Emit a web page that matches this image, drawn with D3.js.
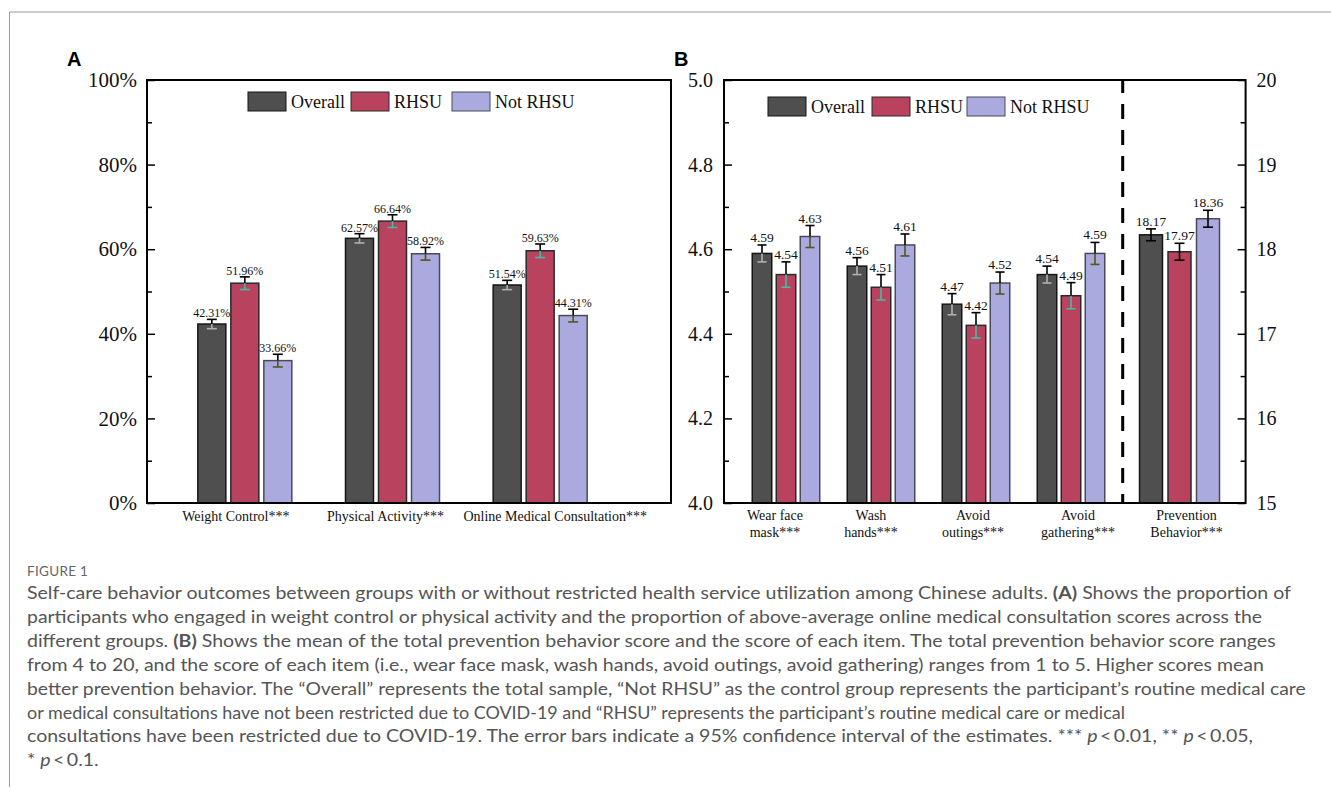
<!DOCTYPE html>
<html><head><meta charset="utf-8">
<script src="https://cdn.jsdelivr.net/npm/d3@7"></script>
<style>body{margin:0;background:#fff} svg{display:block}</style>
</head><body>
<svg id="chart" width="1331" height="791"></svg>
<script>
// ---------- data ----------
const seriesNames = ["Overall", "RHSU", "Not RHSU"];
const seriesColors = ["#4f4f4f", "#b9435f", "#aaaade"];
const seriesStrokes = ["#151515", "#2a2a2a", "#4a4a5c"];

const categoriesA = ["Weight Control***", "Physical Activity***", "Online Medical Consultation***"];
const overallA = [42.31, 62.57, 51.54];
const rhsuA = [51.96, 66.64, 59.63];
const notRhsuA = [33.66, 58.92, 44.31];
const overallCiA = [1.1, 1.1, 1.1];
const rhsuCiA = [1.5, 1.5, 1.6];
const notRhsuCiA = [1.5, 1.5, 1.5];
const ticksA = [0, 20, 40, 60, 80, 100];
const minorTicksA = [10, 30, 50, 70, 90];

const categoriesB = ["Wear face mask***", "Wash hands***", "Avoid outings***", "Avoid gathering***"];
const categoryLinesB = [["Wear face", "mask***"], ["Wash", "hands***"], ["Avoid", "outings***"], ["Avoid", "gathering***"]];
const overallB = [4.59, 4.56, 4.47, 4.54];
const rhsuB = [4.54, 4.51, 4.42, 4.49];
const notRhsuB = [4.63, 4.61, 4.52, 4.59];
const overallCiB = [0.02, 0.02, 0.025, 0.02];
const rhsuCiB = [0.03, 0.03, 0.03, 0.031];
const notRhsuCiB = [0.026, 0.026, 0.026, 0.026];
const ticksB = [4.0, 4.2, 4.4, 4.6, 4.8, 5.0];
const minorTicksB = [4.1, 4.3, 4.5, 4.7, 4.9];

const categoriesP = ["Prevention Behavior***"];
const categoryLinesP = [["Prevention", "Behavior***"]];
const overallP = [18.17];
const rhsuP = [17.97];
const notRhsuP = [18.36];
const overallCiP = [0.07];
const rhsuCiP = [0.1];
const notRhsuCiP = [0.1];
const ticksP = [15, 16, 17, 18, 19, 20];
const minorTicksP = [15.5, 16.5, 17.5, 18.5, 19.5];

const captionTitle = "FIGURE 1";
const captionLines = [
  [["Self-care behavior outcomes between groups with or without restricted health service utilization among Chinese adults. ", ""], ["(A)", "b"], [" Shows the proportion of", ""]],
  [["participants who engaged in weight control or physical activity and the proportion of above-average online medical consultation scores across the", ""]],
  [["different groups. ", ""], ["(B)", "b"], [" Shows the mean of the total prevention behavior score and the score of each item. The total prevention behavior score ranges", ""]],
  [["from 4 to 20, and the score of each item (i.e., wear face mask, wash hands, avoid outings, avoid gathering) ranges from 1 to 5. Higher scores mean", ""]],
  [["better prevention behavior. The \u201COverall\u201D represents the total sample, \u201CNot RHSU\u201D as the control group represents the participant\u2019s routine medical care", ""]],
  [["or medical consultations have not been restricted due to COVID-19 and \u201CRHSU\u201D represents the participant\u2019s routine medical care or medical", ""]],
  [["consultations have been restricted due to COVID-19. The error bars indicate a 95% confidence interval of the estimates. *** ", ""], ["p", "i"], ["\u2009<\u20090.01, ** ", ""], ["p", "i"], ["\u2009<\u20090.05,", ""]],
  [["* ", ""], ["p", "i"], ["\u2009<\u20090.1.", ""]]
];

// ---------- layout constants ----------
const captionLineEnds = [1293, 1263, 1293, 1265, 1306, 1126, 1262, 112];
const labelShiftA = [-9, -7, 15];
const labelShiftB = [-11, -10, -3, 7];
const labelShiftP = [7];

// ---------- drawing ----------
const svg = d3.select("#chart");
const serif = "'Liberation Serif','Times New Roman',serif";
const inv = c => { const r = d3.rgb(c); return d3.rgb(255 - r.r, 255 - r.g, 255 - r.b).formatHex(); };

// outer borders
svg.append("line").attr("x1", 9.5).attr("x2", 1331).attr("y1", 12).attr("y2", 12).attr("stroke", "#999").attr("stroke-width", 1);
svg.append("line").attr("x1", 9.5).attr("x2", 9.5).attr("y1", 12).attr("y2", 787).attr("stroke", "#999").attr("stroke-width", 1);

function drawGroups(g, cats, vals, cis, x, off, y, barW, capW, fmt, fontSize, gap, invertLower) {
  const base = y.domain()[0];
  cats.forEach((cat, i) => {
    const c0 = x(cat) + x.bandwidth() / 2;
    seriesNames.forEach((s, k) => {
      const cx = c0 + off(s);
      const v = vals[k][i], e = cis[k][i];
      g.append("rect").attr("x", cx - barW / 2).attr("y", y(v)).attr("width", barW).attr("height", y(base) - y(v))
        .attr("fill", seriesColors[k]).attr("stroke", seriesStrokes[k]).attr("stroke-width", 1.5);
      const top = y(v + e), mid = y(v), bot = y(v - e);
      const lowC = invertLower ? inv(seriesColors[k]) : "#000";
      g.append("line").attr("x1", cx).attr("x2", cx).attr("y1", top).attr("y2", mid).attr("stroke", "#000").attr("stroke-width", 1.6);
      g.append("line").attr("x1", cx).attr("x2", cx).attr("y1", mid).attr("y2", bot).attr("stroke", lowC).attr("stroke-width", 1.6);
      g.append("line").attr("x1", cx - capW / 2).attr("x2", cx + capW / 2).attr("y1", top).attr("y2", top).attr("stroke", "#000").attr("stroke-width", 1.6);
      g.append("line").attr("x1", cx - capW / 2).attr("x2", cx + capW / 2).attr("y1", bot).attr("y2", bot).attr("stroke", lowC).attr("stroke-width", 1.6);
      g.append("text").attr("x", cx).attr("y", top - gap).attr("text-anchor", "middle")
        .attr("font-family", serif).attr("font-size", fontSize).attr("fill", "#111").text(fmt(v));
    });
  });
}

function styleAxis(sel, fs) {
  sel.select(".domain").remove();
  sel.selectAll(".tick line").attr("stroke", "#000").attr("stroke-width", 1.5);
  sel.selectAll(".tick text").attr("font-family", serif).attr("font-size", fs).attr("fill", "#111");
}

function legend(g, x0, y0, positions) {
  seriesNames.forEach((s, k) => {
    const lx = x0 + positions[k];
    g.append("rect").attr("x", lx).attr("y", y0).attr("width", 38).attr("height", 19)
      .attr("fill", seriesColors[k]).attr("stroke", seriesStrokes[k]).attr("stroke-width", 1);
    g.append("text").attr("x", lx + 43).attr("y", y0 + 16).attr("font-family", serif).attr("font-size", 18)
      .attr("fill", "#111").text(s);
  });
}

// ---------- Panel A ----------
const gA = svg.append("g");
const yA = d3.scaleLinear().domain([0, 100]).range([503, 80]);
const xA = d3.scaleBand().domain(categoriesA).range([171, 614]);
const offA = d3.scalePoint().domain(seriesNames).range([-33, 33]);
drawGroups(gA, categoriesA, [overallA, rhsuA, notRhsuA], [overallCiA, rhsuCiA, notRhsuCiA], xA, offA, yA, 28, 10,
  v => v.toFixed(2) + "%", 12, 2, true);
gA.append("rect").attr("x", 147).attr("y", 80).attr("width", 524).attr("height", 423)
  .attr("fill", "none").attr("stroke", "#000").attr("stroke-width", 2);
const axA = gA.append("g").attr("transform", "translate(147,0)")
  .call(d3.axisLeft(yA).tickValues(ticksA).tickFormat(d => d + "%").tickSizeInner(-8).tickSizeOuter(0).tickPadding(10));
styleAxis(axA, 21);
const axAm = gA.append("g").attr("transform", "translate(147,0)")
  .call(d3.axisLeft(yA).tickValues(minorTicksA).tickFormat("").tickSizeInner(-5).tickSizeOuter(0));
styleAxis(axAm, 21);
categoriesA.forEach((c, i) => {
  gA.append("text").attr("x", xA(c) + xA.bandwidth() / 2 + labelShiftA[i]).attr("y", 521).attr("text-anchor", "middle")
    .attr("font-family", serif).attr("font-size", 14).attr("fill", "#111").text(c);
});
legend(gA, 248, 92, [0, 103, 204]);
svg.append("text").attr("x", 67).attr("y", 66).attr("font-family", "'Liberation Sans',Arial,sans-serif")
  .attr("font-weight", 700).attr("font-size", 20).text("A");

// ---------- Panel B ----------
const gB = svg.append("g");
const yB = d3.scaleLinear().domain([4, 5]).range([503, 80]);
const yP = d3.scaleLinear().domain([15, 20]).range([503, 80]);
const xB = d3.scaleBand().domain(categoriesB).range([738.5, 1118.5]);
const offB = d3.scalePoint().domain(seriesNames).range([-24, 24]);
const xP = d3.scaleBand().domain(categoriesP).range([1123, 1236]);
const offP = d3.scalePoint().domain(seriesNames).range([-28.5, 28.5]);
drawGroups(gB, categoriesB, [overallB, rhsuB, notRhsuB], [overallCiB, rhsuCiB, notRhsuCiB], xB, offB, yB, 19.5, 9,
  v => v.toFixed(2), 13.5, 3, true);
drawGroups(gB, categoriesP, [overallP, rhsuP, notRhsuP], [overallCiP, rhsuCiP, notRhsuCiP], xP, offP, yP, 23, 10,
  v => v.toFixed(2), 13.5, 3, false);
gB.append("line").attr("x1", 1122.7).attr("x2", 1122.7).attr("y1", 80).attr("y2", 503)
  .attr("stroke", "#000").attr("stroke-width", 3).attr("stroke-dasharray", "15,11").attr("stroke-dashoffset", 2);
gB.append("rect").attr("x", 724).attr("y", 80).attr("width", 521.6).attr("height", 423)
  .attr("fill", "none").attr("stroke", "#000").attr("stroke-width", 2);
const axBL = gB.append("g").attr("transform", "translate(724,0)")
  .call(d3.axisLeft(yB).tickValues(ticksB).tickFormat(d3.format(".1f")).tickSizeInner(-8).tickSizeOuter(0).tickPadding(11));
styleAxis(axBL, 20);
const axBLm = gB.append("g").attr("transform", "translate(724,0)")
  .call(d3.axisLeft(yB).tickValues(minorTicksB).tickFormat("").tickSizeInner(-5).tickSizeOuter(0));
styleAxis(axBLm, 20);
const axBR = gB.append("g").attr("transform", "translate(1245.6,0)")
  .call(d3.axisRight(yP).tickValues(ticksP).tickFormat(d3.format("d")).tickSizeInner(-8).tickSizeOuter(0).tickPadding(11));
styleAxis(axBR, 20);
const axBRm = gB.append("g").attr("transform", "translate(1245.6,0)")
  .call(d3.axisRight(yP).tickValues(minorTicksP).tickFormat("").tickSizeInner(-5).tickSizeOuter(0));
styleAxis(axBRm, 20);
function multiLabel(g, cats, lines, x, shifts) {
  cats.forEach((c, i) => {
    const t = g.append("text").attr("text-anchor", "middle").attr("font-family", serif).attr("font-size", 14).attr("fill", "#111");
    lines[i].forEach((ln, j) => {
      t.append("tspan").attr("x", x(c) + x.bandwidth() / 2 + shifts[i]).attr("y", 520 + j * 17).text(ln);
    });
  });
}
multiLabel(gB, categoriesB, categoryLinesB, xB, labelShiftB);
multiLabel(gB, categoriesP, categoryLinesP, xP, labelShiftP);
legend(gB, 768, 97, [0, 104, 199]);
svg.append("text").attr("x", 674).attr("y", 66).attr("font-family", "'Liberation Sans',Arial,sans-serif")
  .attr("font-weight", 700).attr("font-size", 20).text("B");

// ---------- Caption ----------
const capFont = "Lato,'Open Sans',sans-serif";
svg.append("text").attr("x", 27).attr("y", 576).attr("font-family", capFont).attr("font-size", 13.5)
  .attr("fill", "#666").attr("letter-spacing", 0.3).text(captionTitle);
captionLines.forEach((segs, i) => {
  const y = 599 + i * 23.9;
  const t = svg.append("text").attr("x", 0).attr("y", 0).attr("font-family", capFont).attr("font-size", 17)
    .attr("fill", "#555");
  segs.forEach(([s, st]) => {
    const ts = t.append("tspan").text(s);
    if (st === "b") ts.attr("font-weight", 700).attr("fill", "#555");
    if (st === "i") ts.attr("font-style", "italic");
  });
  const w = t.node().getComputedTextLength();
  let k = (captionLineEnds[i] - 27) / w;
  k = Math.max(0.85, Math.min(1.15, k));
  t.attr("transform", `translate(27,${y}) scale(${k},1)`);
});
</script>
</body></html>
